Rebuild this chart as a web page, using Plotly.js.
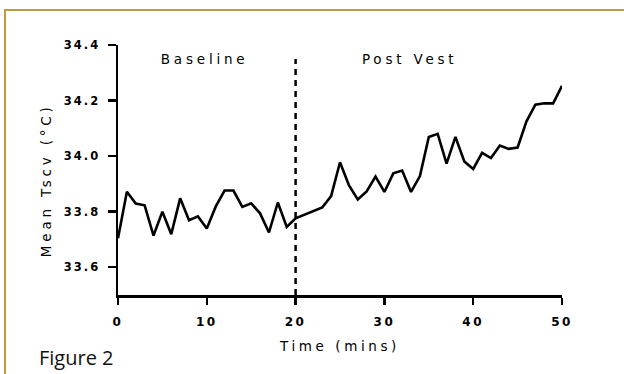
<!DOCTYPE html>
<html><head><meta charset="utf-8">
<script src="https://cdn.plot.ly/plotly-3.0.1.min.js"></script>
<style>
html,body{margin:0;padding:0;background:#fff;}
#wrap{position:relative;width:624px;height:374px;overflow:hidden;background:#fff;}
#chart{position:absolute;left:0;top:0;width:624px;height:374px;}
#frame{position:absolute;left:4px;top:9px;right:-4px;bottom:-4px;border-top:2px solid #BF9B3E;border-left:2px solid #BF9B3E;pointer-events:none;}
.xtick text{letter-spacing:2.5px;}
.ytick text{letter-spacing:2px;}
.g-xtitle text{letter-spacing:3.6px;}
g.annotation text{letter-spacing:3.8px;}
g.annotation[data-index="3"] text{letter-spacing:0;}
</style>
</head><body>
<div id="wrap"><div id="chart"></div><div id="frame"></div></div>
<script>
// ---- data ----
const timeMins = [0,1,2,3,4,5,6,7,8,9,10,11,12,13,14,15,16,17,18,19,20,
  23,24,25,26,27,28,29,30,31,32,33,34,35,36,37,38,39,40,41,42,43,44,45,46,47,48,49,50];
const meanTscv = [33.704,33.872,33.829,33.823,33.714,33.800,33.719,33.848,33.769,33.783,33.739,
  33.818,33.876,33.876,33.817,33.830,33.794,33.725,33.833,33.745,33.776,
  33.815,33.856,33.978,33.895,33.844,33.873,33.926,33.871,33.938,33.948,33.871,33.928,
  34.069,34.080,33.973,34.069,33.981,33.954,34.012,33.993,34.038,34.026,34.031,
  34.125,34.185,34.190,34.190,34.253];
const xTicks = [0,10,20,30,40,50];
const yTicks = [33.6,33.8,34.0,34.2,34.4];
const phaseLabels = ["Baseline","Post Vest"];
const phaseLabelX = [9.75,32.8];
const dividerX = 20;
const dividerTop = 34.35;
const xTitle = "Time (mins)";
const yTitle = "Mean Tscv (°C)";
const figLabel = "Figure 2";

// ---- layout geometry ----
const W = 624, H = 374, L = 117.5, R = 62, T = 45, B = 79;
const pw = W - L - R, ph = H - T - B;
const px = v => (v - L) / pw;
const py = v => (T + ph - v) / ph;

const tickFontY = {family:"DejaVu Sans", size:11.5, color:"#000", weight:"bold"};
const tickFontX = {family:"DejaVu Sans", size:12, color:"#000", weight:"bold"};
const labelFont = {family:"DejaVu Sans", size:13.5, color:"#000"};

const trace = {
  x: timeMins, y: meanTscv, type: "scatter", mode: "lines",
  line: {color:"#000", width:2.6}, cliponaxis:false, hoverinfo:"skip"
};

const annotations = [
  {x:phaseLabelX[0], xref:"x", y:py(59), yref:"paper", text:phaseLabels[0], showarrow:false, font:labelFont, xanchor:"center", yanchor:"middle"},
  {x:phaseLabelX[1], xref:"x", y:py(59), yref:"paper", text:phaseLabels[1], showarrow:false, font:labelFont, xanchor:"center", yanchor:"middle"},
  {x:px(45), xref:"paper", y:py(180), yref:"paper", text:yTitle, textangle:-90, showarrow:false, font:labelFont, xanchor:"center", yanchor:"middle"},
  {x:px(36), xref:"paper", y:py(357), yref:"paper", text:figLabel, showarrow:false, font:{family:"Open Sans", size:20, color:"#111"}, xanchor:"left", yanchor:"middle"}
];

const layout = {
  width: W, height: H,
  margin: {l:L, r:R, t:T, b:B, pad:0},
  paper_bgcolor:"rgba(0,0,0,0)", plot_bgcolor:"rgba(0,0,0,0)",
  showlegend:false,
  xaxis: {
    range:[0,50], tickvals:xTicks, ticktext:xTicks.map(String),
    showgrid:false, zeroline:false, showline:true, linecolor:"#000", linewidth:2.5,
    ticks:"outside", ticklen:7, tickwidth:2.5, tickcolor:"#000",
    tickfont:tickFontX, ticklabelstandoff:7,
    title:{text:xTitle, font:labelFont, standoff:14}, automargin:false
  },
  yaxis: {
    range:[33.5,34.4], tickvals:yTicks, ticktext:yTicks.map(v=>v.toFixed(1)),
    showgrid:false, zeroline:false, showline:true, linecolor:"#000", linewidth:2.5,
    ticks:"outside", ticklen:8, tickwidth:2.5, tickcolor:"#000",
    tickfont:tickFontY, ticklabelstandoff:5, automargin:false
  },
  shapes: [
    {type:"line", xref:"x", yref:"y", x0:dividerX, x1:dividerX, y0:33.5, y1:dividerTop,
     line:{color:"#000", width:2.5, dash:"6px,5px"}}
  ],
  annotations: annotations
};

Plotly.newPlot("chart", [trace], layout, {staticPlot:true, displayModeBar:false});
</script>
</body></html>
